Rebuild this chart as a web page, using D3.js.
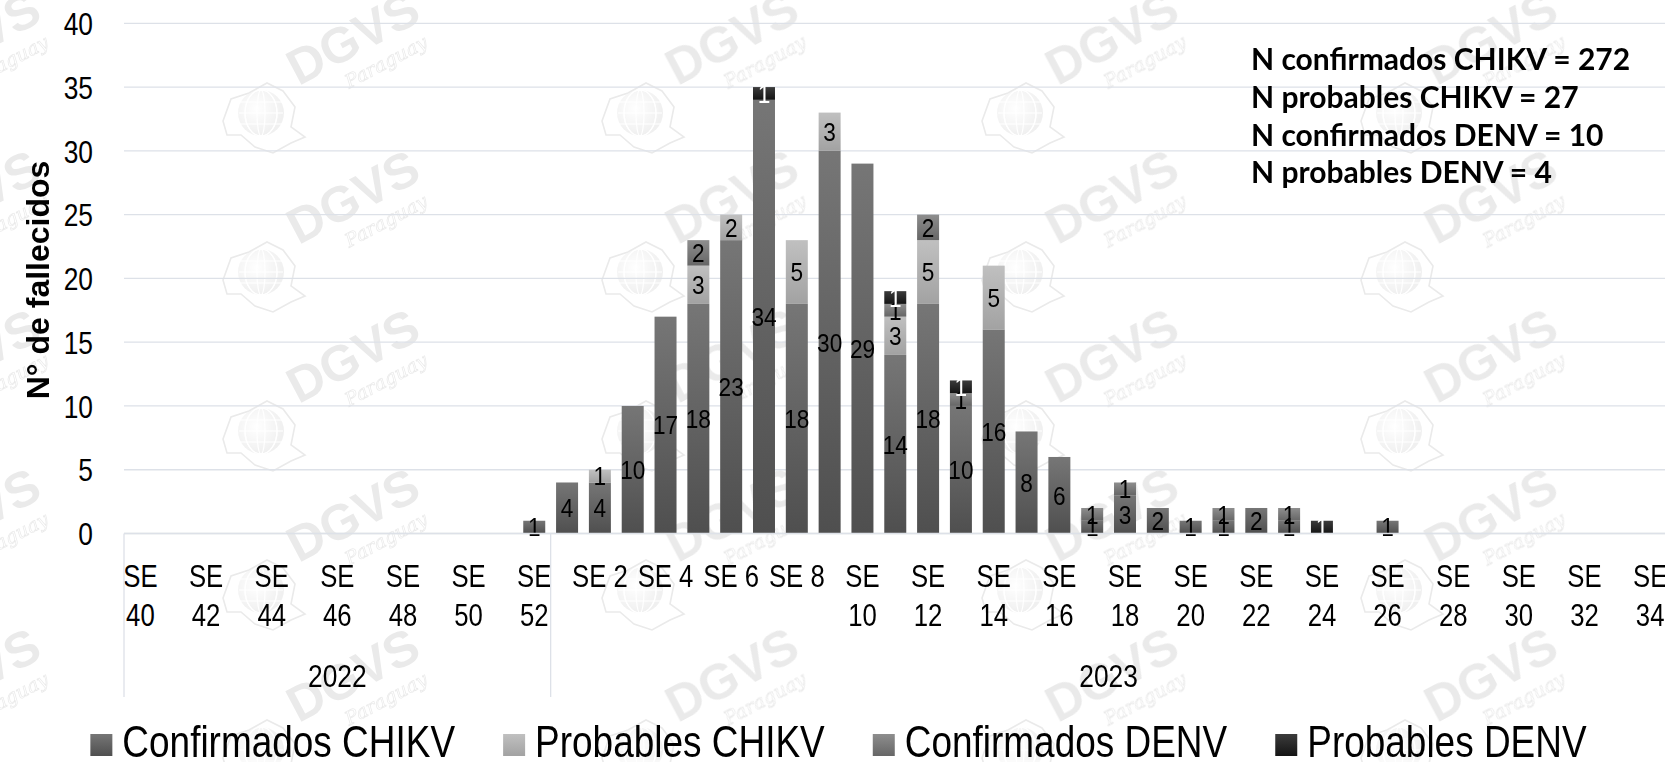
<!DOCTYPE html>
<html><head><meta charset="utf-8">
<script src="https://cdn.jsdelivr.net/npm/d3@7"></script>
<style>
html,body{margin:0;padding:0;background:#fff;}
svg{display:block;}
</style></head><body>
<svg id="chart" width="1665" height="762"></svg>
<script>
// ---------------- DATA ----------------
const categories = [
  "SE 40","SE 41","SE 42","SE 43","SE 44","SE 45","SE 46","SE 47","SE 48","SE 49","SE 50","SE 51","SE 52",
  "SE 1","SE 2","SE 3","SE 4","SE 5","SE 6","SE 7","SE 8","SE 9","SE 10","SE 11","SE 12","SE 13","SE 14",
  "SE 15","SE 16","SE 17","SE 18","SE 19","SE 20","SE 21","SE 22","SE 23","SE 24","SE 25","SE 26","SE 27",
  "SE 28","SE 29","SE 30","SE 31","SE 32","SE 33","SE 34"
];
const yearLabels = ["2022", "2023"];
const yearCounts = [13, 34];
const tickLabels = ["SE 40","SE 42","SE 44","SE 46","SE 48","SE 50","SE 52",
  "SE 2","SE 4","SE 6","SE 8","SE 10","SE 12","SE 14","SE 16","SE 18","SE 20","SE 22","SE 24",
  "SE 26","SE 28","SE 30","SE 32","SE 34"];
const yTicks = [0, 5, 10, 15, 20, 25, 30, 35, 40];

const seriesNames = ["Confirmados CHIKV", "Probables CHIKV", "Confirmados DENV", "Probables DENV"];
//                   SE40 ........................................SE52 | SE1 ...
const confirmadosCHIKV = [0,0,0,0,0,0,0,0,0,0,0,0,1,
  4,4,10,17,18,23,34,18,30,29,14,18,10,16,8,6,1,3,2,1,1,2,1,0,0,1,0,0,0,0,0,0,0,0];
const probablesCHIKV   = [0,0,0,0,0,0,0,0,0,0,0,0,0,
  0,1,0,0,3,2,0,5,3,0,3,5,0,5,0,0,0,0,0,0,0,0,0,0,0,0,0,0,0,0,0,0,0,0];
const confirmadosDENV  = [0,0,0,0,0,0,0,0,0,0,0,0,0,
  0,0,0,0,2,0,0,0,0,0,1,2,1,0,0,0,1,1,0,0,1,0,1,0,0,0,0,0,0,0,0,0,0,0];
const probablesDENV    = [0,0,0,0,0,0,0,0,0,0,0,0,0,
  0,0,0,0,0,0,1,0,0,0,1,0,1,0,0,0,0,0,0,0,0,0,0,1,0,0,0,0,0,0,0,0,0,0];
const seriesValues = [confirmadosCHIKV, probablesCHIKV, confirmadosDENV, probablesDENV];

const annotationLines = [
  `N confirmados CHIKV = ${d3.sum(confirmadosCHIKV)}`,
  `N probables CHIKV = ${d3.sum(probablesCHIKV)}`,
  `N confirmados DENV = ${d3.sum(confirmadosDENV)}`,
  `N probables DENV = ${d3.sum(probablesDENV)}`
];
const yTitle = "N° de fallecidos";

// ---------------- STYLE ----------------
const W = 1665, H = 762;
const plotLeft = 124, catW = 32.82;
const yBase = 533.5, yTopPx = 23.3;
const FONT = "'Liberation Sans', Arial, sans-serif";
const gradStops = [
  ["#767676", "#4f4f4f"],
  ["#c0c0c0", "#a2a2a2"],
  ["#8e8e8e", "#666666"],
  ["#3c3c3c", "#141414"]
];
const labelColors = ["#000", "#000", "#000", "#fff"];
const gridColor = "#dde1e8";

const svg = d3.select("#chart");
const defs = svg.append("defs");
gradStops.forEach((s, i) => {
  const g = defs.append("linearGradient").attr("id", "g" + i)
    .attr("x1", 0).attr("y1", 0).attr("x2", 0).attr("y2", 1);
  g.append("stop").attr("offset", "0%").attr("stop-color", s[0]);
  g.append("stop").attr("offset", "100%").attr("stop-color", s[1]);
});
const rg = defs.append("radialGradient").attr("id", "globe").attr("cx", "40%").attr("cy", "40%").attr("r", "60%");
rg.append("stop").attr("offset", "0%").attr("stop-color", "#fff");
rg.append("stop").attr("offset", "100%").attr("stop-color", "#000");

// ---------------- WATERMARKS (decorative) ----------------
const wm = svg.append("g").attr("opacity", 0.085);
const wmXs = [-18, 361, 740, 1120, 1499];
const wmYs = [53, 212, 371, 530, 690];
wmYs.forEach(cy => wmXs.forEach(cx => {
  const g = wm.append("g").attr("transform", `translate(${cx},${cy})`);
  const t = g.append("g").attr("transform", "rotate(-28)");
  t.append("text").text("DGVS").attr("text-anchor", "middle")
    .attr("font-family", FONT).attr("font-weight", 700).attr("font-size", 50).attr("fill", "#000");
  t.append("text").text("Paraguay").attr("x", 18).attr("y", 26).attr("text-anchor", "middle")
    .attr("font-family", "'DejaVu Serif', serif").attr("font-style", "italic").attr("font-size", 19)
    .attr("fill", "none").attr("stroke", "#000").attr("stroke-width", 0.8);
  const gl = g.append("g").attr("transform", "translate(-100,60)");
  gl.append("path")
    .attr("d", "M-38,8 L-30,-14 L-12,-20 L6,-30 L22,-22 L34,-6 L30,14 L44,24 L30,30 L12,40 L-6,34 L-20,22 L-34,22 Z")
    .attr("fill", "none").attr("stroke", "#000").attr("stroke-width", 1.6);
  gl.append("circle").attr("r", 23).attr("fill", "url(#globe)").attr("opacity", 0.7);
  [-12, 0, 12].forEach(dx => gl.append("ellipse").attr("cx", 0).attr("cy", 0)
    .attr("rx", Math.abs(dx) + 4).attr("ry", 23).attr("fill", "none").attr("stroke", "#fff").attr("stroke-width", 1.2));
  [-11, 0, 11].forEach(dy => gl.append("line").attr("x1", -22).attr("x2", 22).attr("y1", dy).attr("y2", dy)
    .attr("stroke", "#fff").attr("stroke-width", 1.2));
}));

// ---------------- SCALES ----------------
const x = d3.scaleBand().domain(categories)
  .range([plotLeft, plotLeft + categories.length * catW]).padding(0);
const y = d3.scaleLinear().domain([0, 40]).range([yBase, yTopPx]);
const barW = catW * 0.67;

// gridlines
svg.append("g").selectAll("line").data(yTicks).join("line")
  .attr("x1", plotLeft).attr("x2", W)
  .attr("y1", d => y(d)).attr("y2", d => y(d))
  .attr("stroke", gridColor).attr("stroke-width", 1.3);

// y axis via d3
const yAxis = svg.append("g").attr("transform", `translate(93,0)`)
  .call(d3.axisLeft(y).tickValues(yTicks).tickSize(0).tickPadding(0));
yAxis.select(".domain").remove();
yAxis.selectAll("text")
  .attr("font-family", FONT).attr("font-size", 31).attr("fill", "#000")
  .attr("x", 0).attr("dy", "0.36em").attr("text-anchor", "end")
  .attr("transform", "scale(0.85,1)");

// y title
svg.append("text").text(yTitle)
  .attr("transform", "translate(49,280) rotate(-90)")
  .attr("text-anchor", "middle")
  .attr("font-family", FONT).attr("font-weight", 700).attr("font-size", 32).attr("fill", "#000");

// ---------------- BARS ----------------
const rows = categories.map((c, i) => {
  const r = { cat: c };
  seriesNames.forEach((s, k) => r[s] = seriesValues[k][i] || 0);
  return r;
});
const stacked = d3.stack().keys(seriesNames)(rows);

const barsG = svg.append("g");
stacked.forEach((layer, k) => {
  barsG.append("g").selectAll("rect")
    .data(layer.filter(d => d[1] - d[0] > 0)).join("rect")
    .attr("x", d => x(d.data.cat) + (catW - barW) / 2)
    .attr("width", barW)
    .attr("y", d => y(d[1]))
    .attr("height", d => y(d[0]) - y(d[1]))
    .attr("fill", `url(#g${k})`);
});
// labels (drawn per series, later series on top)
stacked.forEach((layer, k) => {
  barsG.append("g").selectAll("text")
    .data(layer.filter(d => d[1] - d[0] > 0)).join("text")
    .attr("transform", d => `translate(${x(d.data.cat) + catW / 2},${(y(d[0]) + y(d[1])) / 2}) scale(0.87,1)`)
    .attr("dy", "0.36em").attr("text-anchor", "middle")
    .attr("font-family", FONT).attr("font-size", 26).attr("fill", labelColors[k])
    .text(d => d[1] - d[0]);
});

// baseline
svg.append("line").attr("x1", plotLeft).attr("x2", W).attr("y1", yBase).attr("y2", yBase)
  .attr("stroke", gridColor).attr("stroke-width", 1.3);

// ---------------- X AXIS ----------------
const xAxis = svg.append("g").attr("transform", `translate(0,${yBase})`)
  .call(d3.axisBottom(x).tickValues(tickLabels).tickSize(0).tickFormat(() => ""));
xAxis.select(".domain").remove();
const measure = svg.append("text").attr("font-family", FONT).attr("font-size", 31).attr("opacity", 0);
xAxis.selectAll(".tick").each(function(d) {
  const tk = d3.select(this);
  tk.selectAll("text").remove();
  measure.text(d);
  const wText = measure.node().getComputedTextLength() * 0.83;
  const lines = wText > 2 * catW ? d.split(" ") : [d];
  const t = tk.append("text").attr("font-family", FONT).attr("font-size", 31).attr("fill", "#000")
    .attr("text-anchor", "middle").attr("transform", "scale(0.83,1)");
  lines.forEach((ln, i) => t.append("tspan").attr("x", 0).attr("y", 53.2 + i * 39.3).text(ln));
});
measure.remove();

// year groups
let start = 0;
const bounds = [x(categories[0])];
yearLabels.forEach((yl, i) => {
  const a = x(categories[start]);
  const b = x(categories[start + yearCounts[i] - 1]) + catW;
  bounds.push(b);
  svg.append("text").text(yl)
    .attr("transform", `translate(${(a + b) / 2},687) scale(0.85,1)`)
    .attr("text-anchor", "middle")
    .attr("font-family", FONT).attr("font-size", 31).attr("fill", "#000");
  start += yearCounts[i];
});
svg.append("g").selectAll("line").data(bounds).join("line")
  .attr("x1", d => d).attr("x2", d => d).attr("y1", yBase).attr("y2", 697)
  .attr("stroke", gridColor).attr("stroke-width", 1.3);

// ---------------- ANNOTATION ----------------
svg.append("g").selectAll("text").data(annotationLines).join("text")
  .attr("x", 1251).attr("y", (d, i) => 70 + i * 37.8)
  .attr("font-family", "Lato, 'Noto Sans', sans-serif").attr("font-weight", 700)
  .attr("font-size", 30).attr("fill", "#000")
  .text(d => d);

// ---------------- LEGEND ----------------
const legendG = svg.append("g");
const lsx = 0.84, lfs = 44, sq = 22, sqGap = 10, itemGap = 48;
let lx = 0;
seriesNames.forEach((s, k) => {
  const g = legendG.append("g");
  g.append("rect").attr("x", lx).attr("y", 734).attr("width", sq).attr("height", sq).attr("fill", `url(#g${k})`);
  const t = g.append("text").text(s)
    .attr("font-family", FONT).attr("font-size", lfs).attr("fill", "#000");
  const tw = t.node().getComputedTextLength() * lsx;
  t.attr("transform", `translate(${lx + sq + sqGap},757) scale(${lsx},1)`);
  lx += sq + sqGap + tw + itemGap;
});
const totalW = lx - itemGap;
legendG.attr("transform", `translate(${838.5 - totalW / 2},0)`);
</script>
</body></html>
